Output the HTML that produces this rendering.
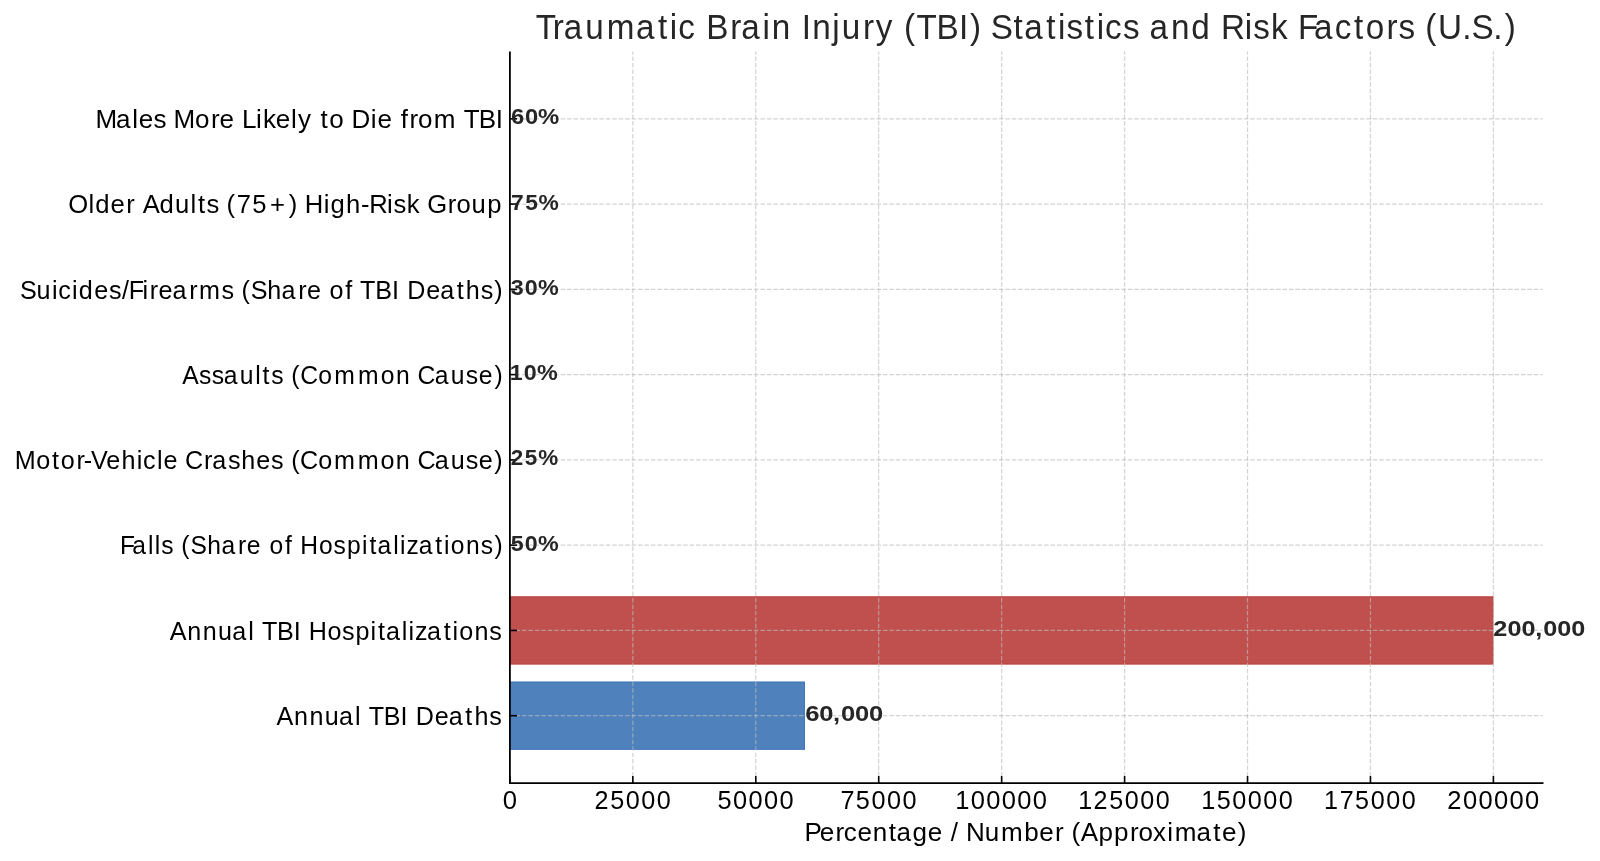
<!DOCTYPE html><html><head><meta charset="utf-8"><title>Traumatic Brain Injury (TBI) Statistics and Risk Factors (U.S.)</title><style>html,body{margin:0;padding:0;background:#fff;width:1600px;height:861px;overflow:hidden}svg{display:block}text{font-family:"Liberation Sans",sans-serif}svg{will-change:transform}</style></head><body>
<svg width="1600" height="861" viewBox="0 0 1600 861">
<rect x="0" y="0" width="1600" height="861" fill="#fff"/>
<rect x="509.90" y="596.32" width="983.50" height="68.22" fill="#C0504D"/>
<path d="M510.90 596.82 H1492.90 V664.04 H510.90" stroke="#b53633" stroke-opacity="0.5" stroke-width="1" fill="none"/>
<rect x="509.90" y="681.59" width="295.05" height="68.22" fill="#4F81BD"/>
<path d="M510.90 682.09 H804.45 V749.31 H510.90" stroke="#2a6bb5" stroke-opacity="0.5" stroke-width="1" fill="none"/>
<g stroke="#bcbcbc" stroke-opacity="0.65" stroke-width="1.2" stroke-dasharray="4.5 1.945" fill="none">
<line x1="632.84" y1="783.06" x2="632.84" y2="51.44" stroke-dashoffset="6.3"/>
<line x1="755.77" y1="783.06" x2="755.77" y2="51.44" stroke-dashoffset="6.3"/>
<line x1="878.71" y1="783.06" x2="878.71" y2="51.44" stroke-dashoffset="6.3"/>
<line x1="1001.65" y1="783.06" x2="1001.65" y2="51.44" stroke-dashoffset="6.3"/>
<line x1="1124.59" y1="783.06" x2="1124.59" y2="51.44" stroke-dashoffset="6.3"/>
<line x1="1247.53" y1="783.06" x2="1247.53" y2="51.44" stroke-dashoffset="6.3"/>
<line x1="1370.46" y1="783.06" x2="1370.46" y2="51.44" stroke-dashoffset="6.3"/>
<line x1="1493.40" y1="783.06" x2="1493.40" y2="51.44" stroke-dashoffset="6.3"/>
<line x1="509.90" y1="118.80" x2="1542.58" y2="118.80" stroke-dashoffset="0.775"/>
<line x1="509.90" y1="204.07" x2="1542.58" y2="204.07" stroke-dashoffset="0.775"/>
<line x1="509.90" y1="289.34" x2="1542.58" y2="289.34" stroke-dashoffset="0.775"/>
<line x1="509.90" y1="374.61" x2="1542.58" y2="374.61" stroke-dashoffset="0.775"/>
<line x1="509.90" y1="459.89" x2="1542.58" y2="459.89" stroke-dashoffset="0.775"/>
<line x1="509.90" y1="545.16" x2="1542.58" y2="545.16" stroke-dashoffset="0.775"/>
<line x1="509.90" y1="630.43" x2="1542.58" y2="630.43" stroke-dashoffset="0.775"/>
<line x1="509.90" y1="715.70" x2="1542.58" y2="715.70" stroke-dashoffset="0.775"/>
</g>
<g stroke="#000" stroke-width="1.6">
<line x1="509.90" y1="783.06" x2="509.90" y2="775.96"/>
<line x1="632.84" y1="783.06" x2="632.84" y2="775.96"/>
<line x1="755.77" y1="783.06" x2="755.77" y2="775.96"/>
<line x1="878.71" y1="783.06" x2="878.71" y2="775.96"/>
<line x1="1001.65" y1="783.06" x2="1001.65" y2="775.96"/>
<line x1="1124.59" y1="783.06" x2="1124.59" y2="775.96"/>
<line x1="1247.53" y1="783.06" x2="1247.53" y2="775.96"/>
<line x1="1370.46" y1="783.06" x2="1370.46" y2="775.96"/>
<line x1="1493.40" y1="783.06" x2="1493.40" y2="775.96"/>
<line x1="509.90" y1="118.80" x2="517.00" y2="118.80"/>
<line x1="509.90" y1="204.07" x2="517.00" y2="204.07"/>
<line x1="509.90" y1="289.34" x2="517.00" y2="289.34"/>
<line x1="509.90" y1="374.61" x2="517.00" y2="374.61"/>
<line x1="509.90" y1="459.89" x2="517.00" y2="459.89"/>
<line x1="509.90" y1="545.16" x2="517.00" y2="545.16"/>
<line x1="509.90" y1="630.43" x2="517.00" y2="630.43"/>
<line x1="509.90" y1="715.70" x2="517.00" y2="715.70"/>
</g>
<path d="M509.90 51.44 L509.90 783.06 L1543.48 783.06" stroke="#000" stroke-width="1.8" fill="none" stroke-linejoin="miter"/>
<text transform="matrix(0.9632 0 0 1 0 39.30)" x="556.23 573.92 585.40 607.57 630.03 660.19 683.08 695.42 704.16 723.00 733.15 758.10 769.57 791.60 801.25 822.00 832.32 843.23 863.97 873.79 895.98 909.31 928.47 938.57 951.51 972.33 995.61 1007.06 1019.07 1028.58 1052.32 1063.27 1086.16 1098.50 1107.38 1126.27 1138.61 1147.35 1166.01 1183.73 1193.36 1215.67 1236.75 1257.81 1267.75 1292.22 1301.09 1319.68 1338.32 1347.57 1364.24 1385.65 1405.65 1417.85 1439.59 1451.97 1469.69 1479.79 1492.85 1518.17 1527.70 1550.26 1562.12" y="0" font-size="34.5" font-weight="normal" fill="#262626">Traumatic Brain Injury (TBI) Statistics and Risk Factors (U.S.)</text>
<text transform="matrix(1.0410 0 0 1 0 128.00)" x="91.68 111.51 126.99 133.30 147.41 159.84 166.71 187.42 202.60 210.90 225.24 232.47 245.95 252.65 264.95 279.52 286.22 299.64 307.88 316.21 330.56 337.75 356.24 362.55 376.89 385.02 393.40 401.62 416.76 438.75 445.45 459.87 476.25" y="0" font-size="25" font-weight="normal" fill="#000">Males More Likely to Die from TBI</text>
<text transform="matrix(1.0251 0 0 1 0 213.27)" x="66.69 86.28 92.80 107.84 123.23 132.12 139.15 155.64 170.80 185.85 193.05 201.35 213.92 221.01 230.99 246.06 263.32 281.67 290.14 297.28 315.78 322.29 337.52 352.10 360.16 377.59 383.76 396.84 410.09 416.82 436.92 445.30 460.03 475.30" y="0" font-size="25" font-weight="normal" fill="#000">Older Adults (75+) High-Risk Group</text>
<text transform="matrix(1.0053 0 0 1 0 298.54)" x="19.80 36.37 51.65 57.90 71.69 78.41 93.74 108.33 121.33 128.17 141.65 149.08 157.74 171.66 188.23 197.92 220.30 233.06 240.32 249.32 265.95 280.13 296.70 305.36 320.10 327.88 343.34 351.14 358.23 373.19 389.97 397.39 405.06 423.91 437.83 454.32 463.35 478.19 491.77" y="0" font-size="25" font-weight="normal" fill="#000">Suicides/Firearms (Share of TBI Deaths)</text>
<text transform="matrix(0.9877 0 0 1 0 383.81)" x="184.49 201.60 214.45 226.64 242.86 258.33 265.83 274.54 287.49 294.89 303.94 322.30 338.45 362.47 385.42 400.82 415.97 422.81 440.27 456.49 471.65 484.83 500.60" y="0" font-size="25" font-weight="normal" fill="#000">Assaults (Common Cause)</text>
<text transform="matrix(1.0065 0 0 1 0 469.09)" x="14.74 36.04 51.59 60.33 75.96 83.28 90.32 105.60 120.67 135.87 142.11 155.88 162.56 177.27 183.88 202.77 210.99 226.47 239.59 254.73 269.30 282.05 289.29 298.09 316.15 331.93 355.50 378.09 393.20 408.14 414.74 431.90 447.83 462.72 475.65 491.18" y="0" font-size="25" font-weight="normal" fill="#000">Motor-Vehicle Crashes (Common Cause)</text>
<text transform="matrix(0.9853 0 0 1 0 554.36)" x="121.92 134.15 150.24 157.11 163.67 176.65 184.08 193.33 210.27 224.75 241.60 250.49 265.45 273.46 289.17 297.13 304.78 323.72 338.59 352.16 367.46 374.97 383.06 399.15 406.03 412.58 424.91 441.65 450.70 457.51 472.95 488.04 501.85" y="0" font-size="25" font-weight="normal" fill="#000">Falls (Share of Hospitalizations)</text>
<text transform="matrix(1.0050 0 0 1 0 639.63)" x="168.87 186.28 201.63 216.88 231.13 247.00 253.52 260.62 275.59 292.37 299.80 307.20 325.80 340.39 353.68 368.77 376.11 383.97 399.84 406.58 412.94 425.00 441.49 450.38 456.97 472.11 486.92" y="0" font-size="25" font-weight="normal" fill="#000">Annual TBI Hospitalizations</text>
<text transform="matrix(1.0053 0 0 1 0 724.90)" x="275.06 292.46 307.81 323.06 337.30 353.17 359.69 366.78 381.74 398.52 405.94 413.61 432.46 446.38 462.87 471.89 486.73" y="0" font-size="25" font-weight="normal" fill="#000">Annual TBI Deaths</text>
<text transform="matrix(1.0267 0 0 1 0 809.00)" x="489.67" y="0" font-size="25" font-weight="normal" fill="#000">0</text>
<text transform="matrix(1.0080 0 0 1 0 809.00)" x="589.72 605.31 620.77 636.14 651.51" y="0" font-size="25" font-weight="normal" fill="#000">25000</text>
<text transform="matrix(1.0153 0 0 1 0 809.00)" x="706.72 722.07 737.33 752.59 767.85" y="0" font-size="25" font-weight="normal" fill="#000">50000</text>
<text transform="matrix(1.0108 0 0 1 0 809.00)" x="831.45 846.73 862.15 877.47 892.80" y="0" font-size="25" font-weight="normal" fill="#000">75000</text>
<text transform="matrix(1.0197 0 0 1 0 809.00)" x="936.73 952.05 967.24 982.44 997.63 1012.82" y="0" font-size="25" font-weight="normal" fill="#000">100000</text>
<text transform="matrix(1.0038 0 0 1 0 809.00)" x="1074.16 1089.40 1105.06 1120.59 1136.02 1151.45" y="0" font-size="25" font-weight="normal" fill="#000">125000</text>
<text transform="matrix(1.0100 0 0 1 0 809.00)" x="1189.27 1204.64 1220.08 1235.42 1250.76 1266.10" y="0" font-size="25" font-weight="normal" fill="#000">150000</text>
<text transform="matrix(1.0062 0 0 1 0 809.00)" x="1315.96 1331.43 1346.78 1362.27 1377.67 1393.07" y="0" font-size="25" font-weight="normal" fill="#000">175000</text>
<text transform="matrix(1.0208 0 0 1 0 809.00)" x="1417.68 1433.17 1448.35 1463.53 1478.70 1493.88" y="0" font-size="25" font-weight="normal" fill="#000">200000</text>
<text transform="matrix(1.0418 0 0 1 0 840.75)" x="772.33 786.77 801.94 809.84 823.08 837.68 853.03 860.47 875.81 890.60 904.93 912.58 920.24 927.13 945.31 960.75 983.09 997.61 1012.78 1021.55 1028.50 1037.51 1054.45 1069.29 1084.60 1092.80 1106.78 1120.48 1127.53 1148.58 1164.63 1173.03 1188.16" y="0" font-size="25" font-weight="normal" fill="#000">Percentage / Number (Approximate)</text>
<text transform="matrix(1.0824 0 0 1 0 124.30)" x="472.05 484.98 497.16" y="0" font-size="22" font-weight="bold" fill="#262626">60%</text>
<text transform="matrix(1.0359 0 0 1 0 209.57)" x="493.26 506.98 519.86" y="0" font-size="22" font-weight="bold" fill="#262626">75%</text>
<text transform="matrix(1.0586 0 0 1 0 294.84)" x="482.51 495.78 508.32" y="0" font-size="22" font-weight="bold" fill="#262626">30%</text>
<text transform="matrix(1.0593 0 0 1 0 380.11)" x="481.20 494.46 506.99" y="0" font-size="22" font-weight="bold" fill="#262626">10%</text>
<text transform="matrix(1.0191 0 0 1 0 465.39)" x="501.13 514.98 528.12" y="0" font-size="22" font-weight="bold" fill="#262626">25%</text>
<text transform="matrix(1.0581 0 0 1 0 550.66)" x="482.66 495.93 508.47" y="0" font-size="22" font-weight="bold" fill="#262626">50%</text>
<text transform="matrix(1.1483 0 0 1 0 635.93)" x="1300.45 1312.72 1324.96 1337.03 1343.88 1356.12 1368.36" y="0" font-size="22" font-weight="bold" fill="#262626">200,000</text>
<text transform="matrix(1.1637 0 0 1 0 721.20)" x="691.90 703.93 715.87 722.60 734.68 746.75" y="0" font-size="22" font-weight="bold" fill="#262626">60,000</text>
</svg></body></html>
